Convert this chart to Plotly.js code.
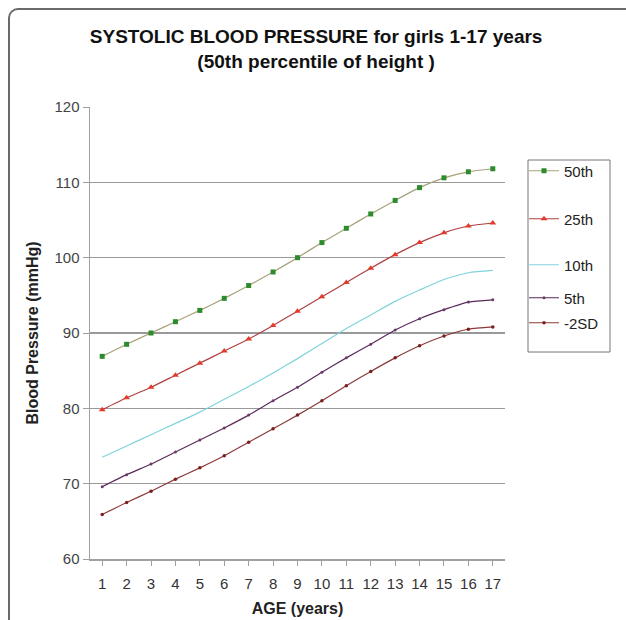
<!DOCTYPE html>
<html>
<head>
<meta charset="utf-8">
<script src="https://cdn.plot.ly/plotly-3.0.1.min.js"></script>
<style>
  html, body { margin: 0; padding: 0; background: #fff; }
  #frame { position: absolute; left: 8px; top: 8px; width: 640px; height: 640px;
           border-left: 2px solid #6a6a6a; border-top: 2px solid #6a6a6a;
           border-top-left-radius: 10px; box-sizing: border-box; pointer-events: none; }
  #chart { position: absolute; left: 0; top: 0; width: 626px; height: 620px; }
</style>
</head>
<body>
<div id="chart"></div>
<div id="frame"></div>
<script>
const ages = [1,2,3,4,5,6,7,8,9,10,11,12,13,14,15,16,17];
const p50 = [86.9,88.5,90.0,91.5,93.0,94.6,96.3,98.1,100.0,102.0,103.9,105.8,107.6,109.3,110.6,111.4,111.8];
const p25 = [79.8,81.4,82.8,84.4,86.0,87.6,89.2,91.0,92.9,94.8,96.7,98.6,100.4,102.0,103.3,104.2,104.6];
const p10 = [73.5,75.0,76.5,78.0,79.5,81.2,82.9,84.7,86.6,88.6,90.6,92.4,94.2,95.7,97.1,98.0,98.3];
const p5  = [69.6,71.2,72.6,74.2,75.8,77.4,79.1,81.0,82.8,84.8,86.7,88.5,90.4,91.9,93.1,94.1,94.4];
const sd2 = [65.9,67.5,69.0,70.6,72.1,73.7,75.5,77.3,79.1,81.0,83.0,84.9,86.7,88.3,89.6,90.5,90.8];
const seriesNames = ["50th","25th","10th","5th","-2SD"];
const xTickLabels = ages.map(String);
const yTickVals = [60,70,80,90,100,110,120];

const font = "Liberation Sans, Arial, sans-serif";
function tr(y, name, lineColor, mColor, symbol, size, legendId) {
  return {
    x: ages, y: y, name: name, type: "scatter", mode: "lines+markers",
    line: { color: lineColor, width: 1.2, shape: "spline", smoothing: 0.6 },
    marker: { color: mColor, symbol: symbol, size: size },
    legend: legendId
  };
}
const data = [
  tr(p50, seriesNames[0], "#a8a27a", "#2c8c2c", "square", 5, "legend"),
  tr(p25, seriesNames[1], "#b04040", "#e33a2a", "triangle-up", 6, "legend2"),
  tr(p10, seriesNames[2], "#7fd3db", "#7fd3db", "line-ew", 4, "legend3"),
  tr(p5,  seriesNames[3], "#5a2a5a", "#6a3a6a", "circle", 3, "legend4"),
  tr(sd2, seriesNames[4], "#8a3a3a", "#7a1e1e", "circle", 3.5, "legend5")
];

const L = 90, R = 505, T = 107, B = 559;
const px = v => (v - L) / (R - L);
const py = v => (B - v) / (B - T);
function leg(yc) {
  return { x: px(524), y: py(yc), xanchor: "left", yanchor: "middle",
           bgcolor: "rgba(0,0,0,0)", borderwidth: 0, itemwidth: 30,
           font: { family: font, size: 15, color: "#222" }, tracegroupgap: 0 };
}

const layout = {
  width: 626, height: 620,
  margin: { l: L, r: 626 - R, t: T, b: 620 - B },
  paper_bgcolor: "#fff", plot_bgcolor: "#fff",
  showlegend: true,
  title: {
    text: "<b>SYSTOLIC BLOOD PRESSURE for girls 1-17 years<br>(50th percentile of height )</b>",
    font: { family: font, size: 19, color: "#111" },
    x: 0.505, xanchor: "center", y: 1 - 43 / 620, yanchor: "top"
  },
  xaxis: {
    range: [0.5, 17.5], tickvals: ages, ticktext: xTickLabels,
    showgrid: false, zeroline: false,
    showline: true, linecolor: "#a0a0a0", linewidth: 1.5,
    ticks: "outside", ticklen: 5, tickcolor: "#a0a0a0",
    ticklabelstandoff: 5,
    tickfont: { family: font, size: 15, color: "#333" },
    title: { text: "<b>AGE (years)</b>", font: { family: font, size: 16, color: "#222" }, standoff: 12 }
  },
  yaxis: {
    range: [60, 120], tickvals: yTickVals,
    showgrid: true, gridcolor: "#999", gridwidth: 1.5,
    zeroline: false, showline: true, linecolor: "#a0a0a0", linewidth: 1.5,
    ticks: "outside", ticklen: 6, tickcolor: "#a0a0a0",
    tickfont: { family: font, size: 15, color: "#444" },
    title: { text: "<b>Blood Pressure (mmHg)</b>", font: { family: font, size: 16, color: "#222" }, standoff: 12 }
  },
  legend: leg(171), legend2: leg(219), legend3: leg(265), legend4: leg(298), legend5: leg(323),
  shapes: [{
    type: "rect", xref: "paper", yref: "paper",
    x0: px(528), x1: px(610), y0: py(352), y1: py(160),
    line: { color: "#777", width: 1 }, fillcolor: "rgba(0,0,0,0)"
  }]
};

Plotly.newPlot("chart", data, layout, { displayModeBar: false, staticPlot: true });
</script>
</body>
</html>
